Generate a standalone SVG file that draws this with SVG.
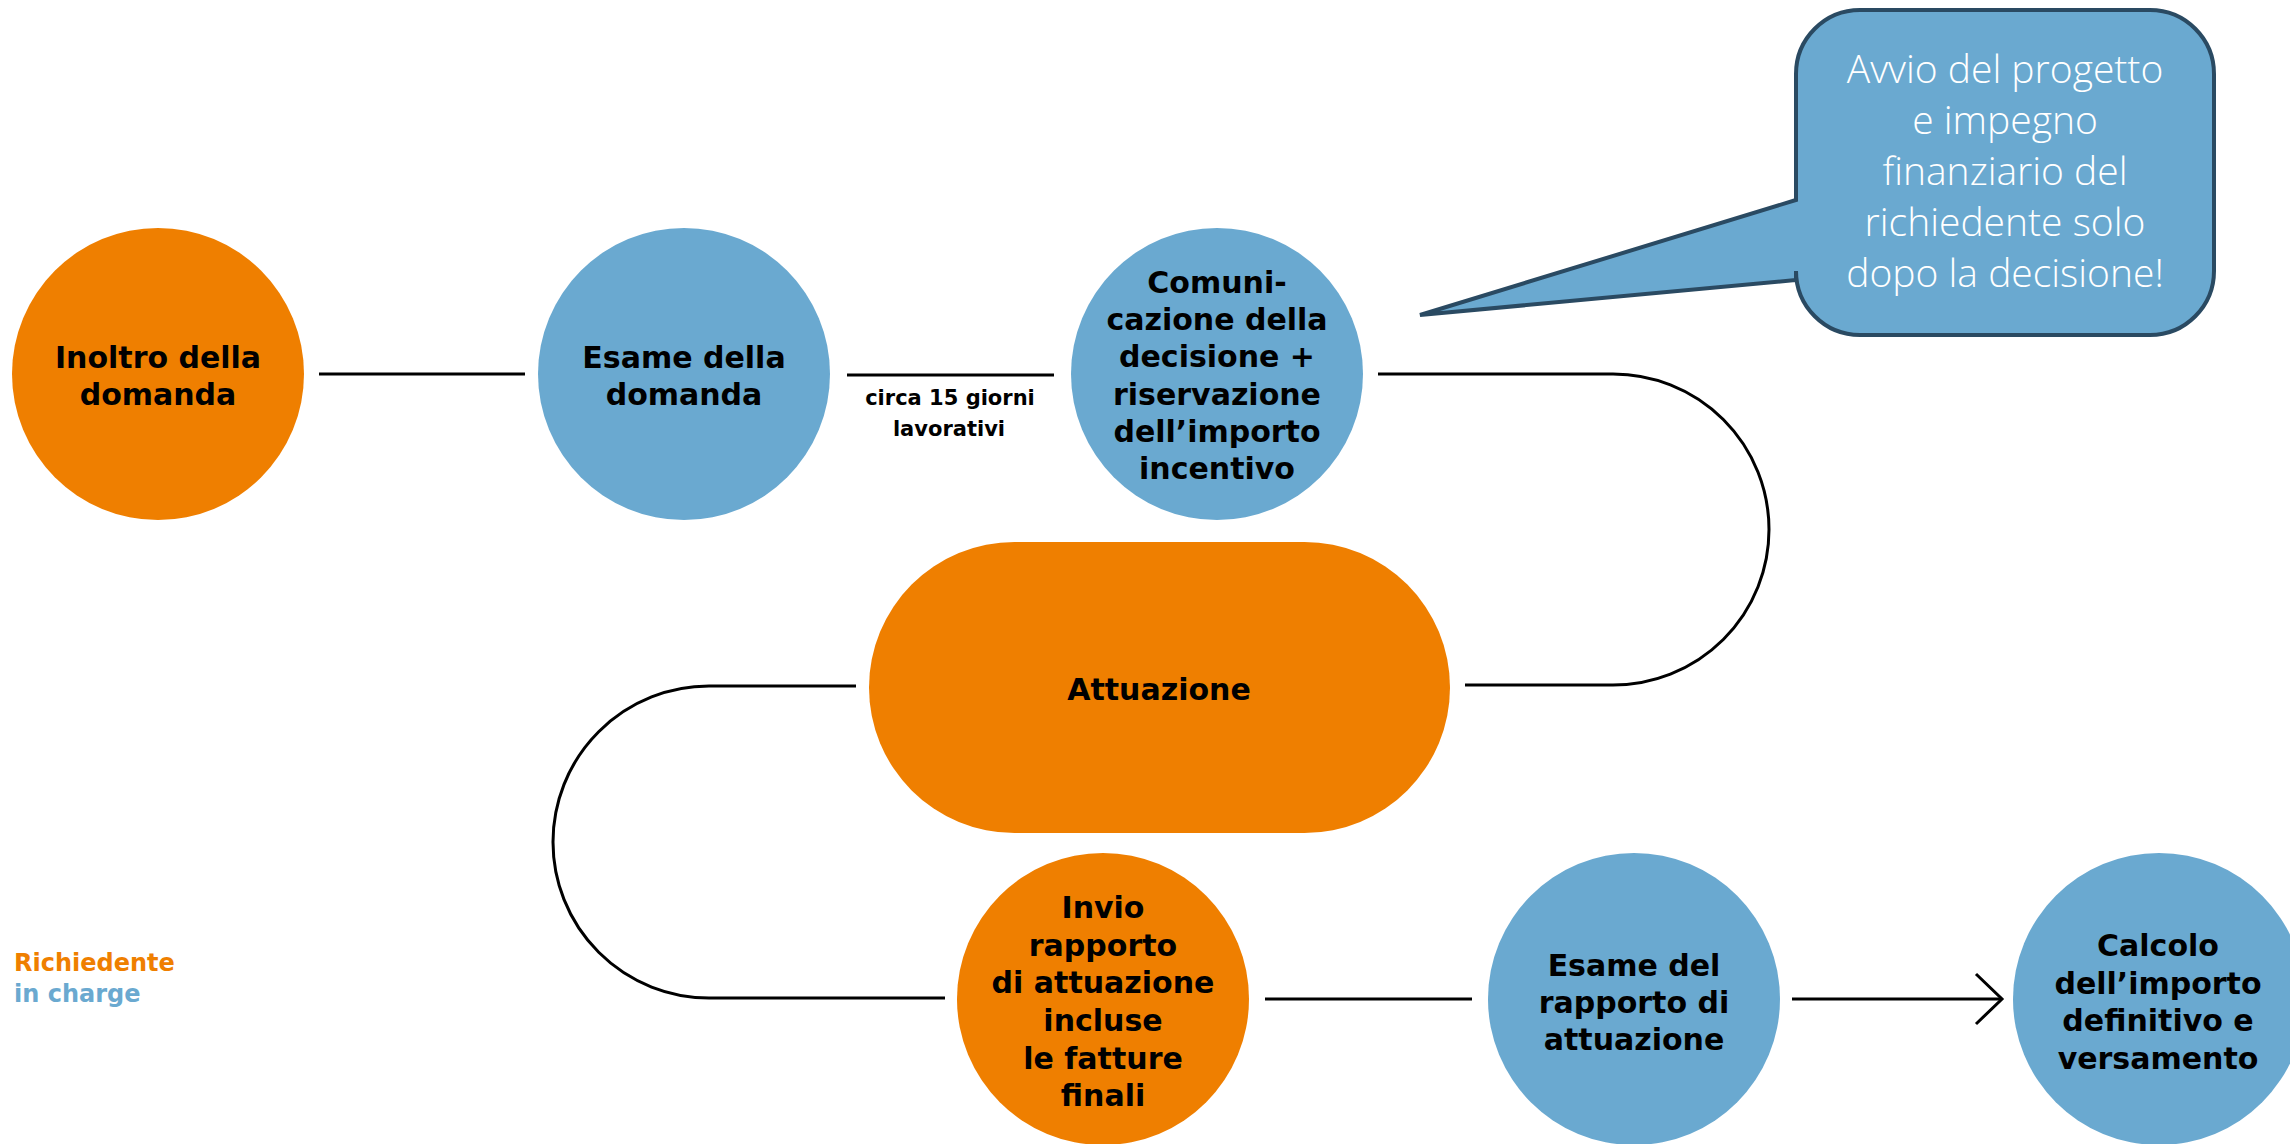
<svg xmlns="http://www.w3.org/2000/svg" width="2290" height="1144" viewBox="0 0 2290 1144">
<style>
.orange{fill:#EF7F00}
.blue{fill:#6AA9D0}
.t{font-family:"DejaVu Sans",Roboto,sans-serif;font-weight:700;font-size:30px;fill:#000;text-anchor:middle}
.lbl{font-family:"DejaVu Sans",Roboto,sans-serif;font-weight:700;font-size:21px;fill:#000;text-anchor:middle}
.call{font-family:"Open Sans",Roboto,sans-serif;font-weight:300;font-size:39px;fill:#fff;text-anchor:middle}
.leg{font-family:"DejaVu Sans",Roboto,sans-serif;font-weight:700;font-size:24px}
.c{fill:none;stroke:#000;stroke-width:3}
</style>
<rect width="2290" height="1144" fill="#fff"/>
<g id="connectors">
<line class="c" x1="319" y1="374" x2="525" y2="374"/>
<line class="c" x1="847" y1="375" x2="1054" y2="375"/>
<path class="c" d="M1378 374 H1613 A156 155.5 0 0 1 1613 685 H1465"/>
<path class="c" d="M856 686 H709 A156 156 0 0 0 709 998 H945"/>
<line class="c" x1="1265" y1="999" x2="1472" y2="999"/>
<line class="c" x1="1792" y1="999" x2="2001" y2="999"/>
<polyline class="c" points="1976,974 2002,999 1976,1024"/>
<text class="lbl" x="950" y="405">circa 15 giorni</text>
<text class="lbl" x="949" y="436">lavorativi</text>
</g>
<g id="n1">
<circle class="orange" cx="158" cy="374" r="146"/>
<text class="t" x="158" y="368">Inoltro della</text>
<text class="t" x="158" y="405">domanda</text>
</g>
<g id="n2">
<circle class="blue" cx="684" cy="374" r="146"/>
<text class="t" x="684" y="368">Esame della</text>
<text class="t" x="684" y="405">domanda</text>
</g>
<g id="n3">
<circle class="blue" cx="1217" cy="374" r="146"/>
<text class="t" x="1217" y="293">Comuni-</text>
<text class="t" x="1217" y="330">cazione della</text>
<text class="t" x="1217" y="367">decisione +</text>
<text class="t" x="1217" y="405">riservazione</text>
<text class="t" x="1217" y="442">dell’importo</text>
<text class="t" x="1217" y="479">incentivo</text>
</g>
<g id="callout">
<path d="M1860 10 H2150 A64 64 0 0 1 2214 74 V271 A64 64 0 0 1 2150 335 H1860 A64 64 0 0 1 1796 271 V280 L1420 315 L1796 200 V74 A64 64 0 0 1 1860 10 Z" fill="#6AA9D0" stroke="#2A4A62" stroke-width="4" stroke-linejoin="miter"/>
<text class="call" x="2005" y="83">Avvio del progetto</text>
<text class="call" x="2005" y="134">e impegno</text>
<text class="call" x="2005" y="185">finanziario del</text>
<text class="call" x="2005" y="236">richiedente solo</text>
<text class="call" x="2005" y="287">dopo la decisione!</text>
</g>
<g id="n4">
<rect class="orange" x="869" y="542" width="581" height="291" rx="145.5" ry="145.5"/>
<text class="t" x="1159" y="700">Attuazione</text>
</g>
<g id="n5">
<circle class="orange" cx="1103" cy="999" r="146"/>
<text class="t" x="1103" y="918">Invio</text>
<text class="t" x="1103" y="956">rapporto</text>
<text class="t" x="1103" y="993">di attuazione</text>
<text class="t" x="1103" y="1031">incluse</text>
<text class="t" x="1103" y="1069">le fatture</text>
<text class="t" x="1103" y="1106">finali</text>
</g>
<g id="n6">
<circle class="blue" cx="1634" cy="999" r="146"/>
<text class="t" x="1634" y="976">Esame del</text>
<text class="t" x="1634" y="1013">rapporto di</text>
<text class="t" x="1634" y="1050">attuazione</text>
</g>
<g id="n7">
<circle class="blue" cx="2159" cy="999" r="146"/>
<text class="t" x="2158" y="956">Calcolo</text>
<text class="t" x="2158" y="994">dell’importo</text>
<text class="t" x="2158" y="1031">definitivo e</text>
<text class="t" x="2158" y="1069">versamento</text>
</g>
<g id="legend">
<text class="leg" x="14" y="971" fill="#EF7F00">Richiedente</text>
<text class="leg" x="14" y="1002" fill="#6AA9D0">in charge</text>
</g>
</svg>
